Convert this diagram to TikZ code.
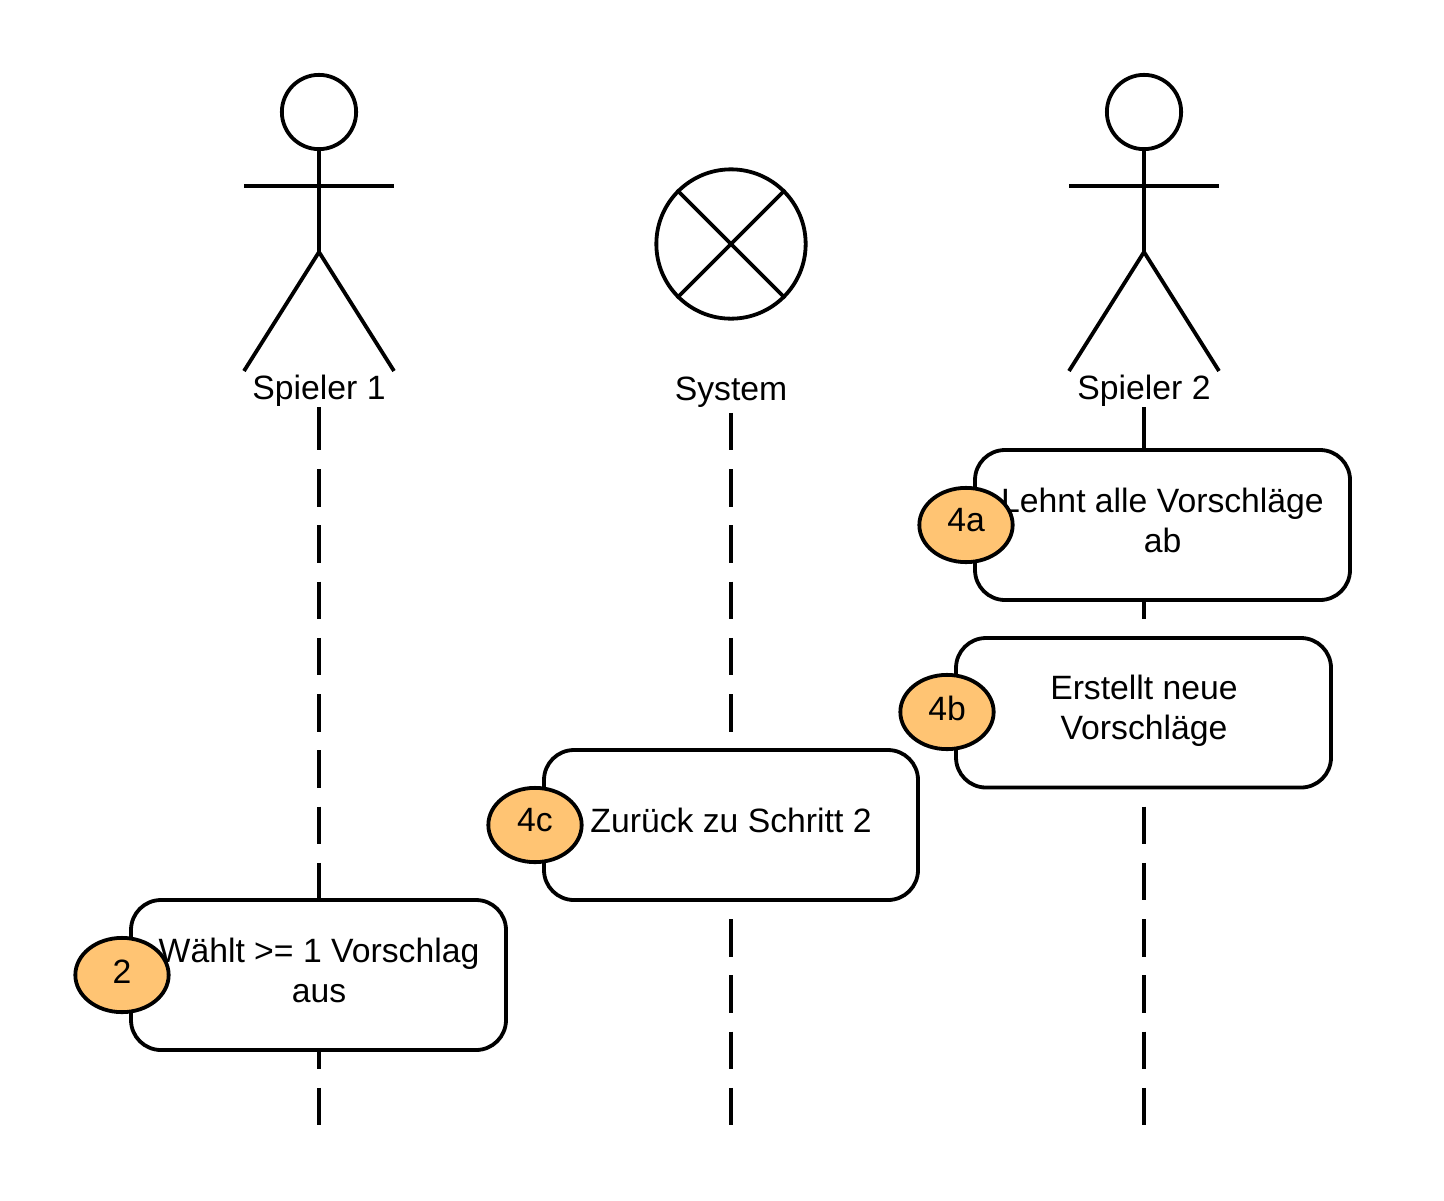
\documentclass[tikz,border=0pt]{standalone}
\usepackage{fontspec}
\setmainfont{Liberation Sans}
\tikzset{
  x=0.75pt,y=-0.75pt,
  stroke/.style={draw=black,line width=2.85pt},
  life/.style={stroke,dash pattern=on 28.125pt off 14.0625pt},
  usecase/.style={stroke,fill=white,rounded corners=22.5pt},
  lbl/.style={font=\fontsize{25.3}{30}\selectfont,align=center,inner sep=0pt,text=black},
  badge/.style={stroke,fill=badgecol,ellipse,minimum width=70pt,minimum height=55.7pt,inner sep=0pt},
}
\definecolor{badgecol}{HTML}{FFC473}
\usetikzlibrary{shapes.geometric}
\begin{document}
\begin{tikzpicture}
\useasboundingbox (0,0) rectangle (1444,1200);
% anchors for the lifelines
\coordinate (l1top) at (319,407); \coordinate (l1dash) at (319,412.75); \coordinate (l1end) at (319,1125.5);
\coordinate (l2top) at (731,412.75); \coordinate (l2end) at (731,1125.5);
\coordinate (l3top) at (1144,407); \coordinate (l3dash) at (1144,412.75); \coordinate (l3end) at (1144,1125.5);
\draw[stroke] (l1top) -- (l1dash);
\draw[stroke] (l3top) -- (l3dash);
\draw[life] (l1dash) -- (l1end);
\draw[life] (l2top) -- (l2end);
\draw[life] (l3dash) -- (l3end);
% Spieler 1
\node[stroke,circle,minimum size=55.7pt,inner sep=0pt] (h1) at (319,112) {};
\coordinate (a1l) at (244,186); \coordinate (a1r) at (394,186);
\coordinate (neck1) at (319,247);
\coordinate (hip1) at (319,252); \coordinate (f1l) at (244,371); \coordinate (f1r) at (394,371);
\draw[stroke] (h1.south) -- (neck1) -- (hip1) (a1l) -- (a1r);
\draw[stroke,line join=round] (f1l) -- (hip1) -- (f1r);
\node[lbl] (n1) at (319,390.5) {Spieler 1};
% Spieler 2
\node[stroke,circle,minimum size=55.7pt,inner sep=0pt] (h2) at (1144,112) {};
\coordinate (a2l) at (1069,186); \coordinate (a2r) at (1219,186);
\coordinate (neck2) at (1144,247);
\coordinate (hip2) at (1144,252); \coordinate (f2l) at (1069,371); \coordinate (f2r) at (1219,371);
\draw[stroke] (h2.south) -- (neck2) -- (hip2) (a2l) -- (a2r);
\draw[stroke,line join=round] (f2l) -- (hip2) -- (f2r);
\node[lbl] (n3) at (1144,390.5) {Spieler 2};
% System
\node[stroke,circle,minimum size=112pt,inner sep=0pt] (sys) at (731,244) {};
\draw[stroke] (sys.45) -- (sys.225) (sys.135) -- (sys.315);
\node[lbl] (n2) at (731,392) {System};
% boxes
\draw[usecase] (975,450) rectangle (1350,600);
\node[lbl] (t4a) at (1162.5,520) {Lehnt alle Vorschläge\\ab};
\draw[usecase] (956,638) rectangle (1331,787.5);
\node[lbl] (t4b) at (1144,710.5) {Erstellt neue\\Vorschläge};
\draw[usecase] (544,750) rectangle (918,900);
\node[lbl] (t4c) at (731,820) {Zurück zu Schritt 2};
\draw[usecase] (131,900) rectangle (506,1050);
\node[lbl] (t2) at (319,970) {Wählt >= 1 Vorschlag\\aus};
% badges
\node[badge] (b4a) at (966,525) {};
\node[lbl] at (966,520.5) {4a};
\node[badge] (b4b) at (947,712) {};
\node[lbl] at (947,708) {4b};
\node[badge] (b4c) at (535,825) {};
\node[lbl] at (535,820.5) {4c};
\node[badge] (b2) at (122,975) {};
\node[lbl] at (122,972) {2};
\end{tikzpicture}
\end{document}
